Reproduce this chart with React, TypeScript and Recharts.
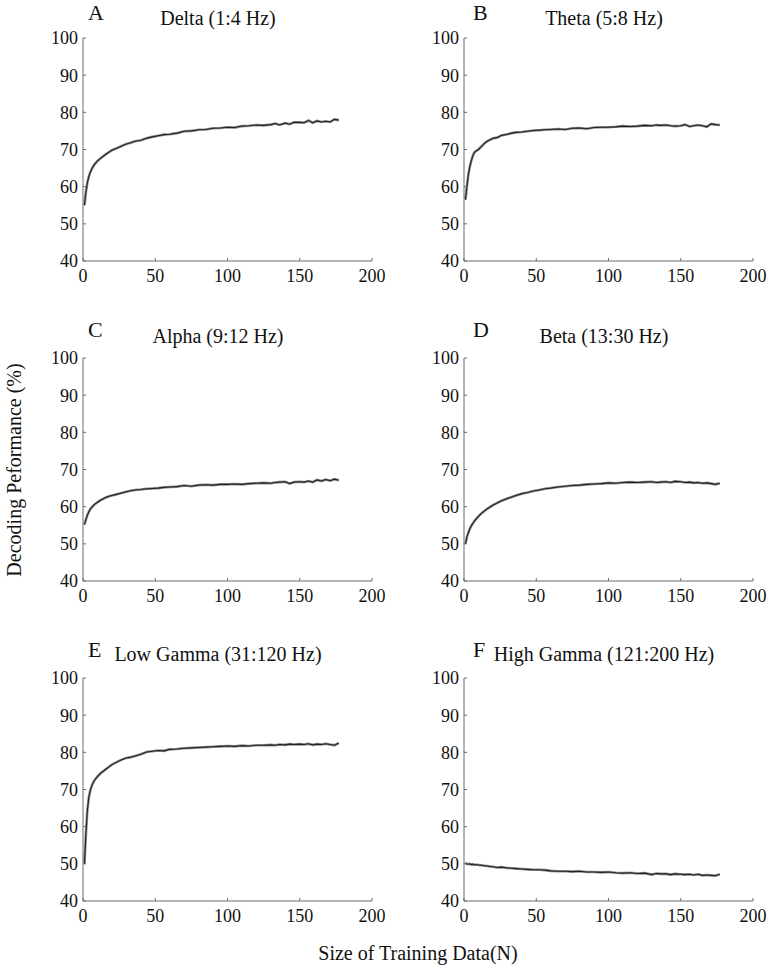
import React from "react";
import { LineChart, Line, XAxis, YAxis } from "recharts";

const trainingSizes = [1,2,3,4,5,6,7,8,10,12,14,16,18,20,23,26,30,33,36,40,44,48,52,56,60,65,70,75,80,85,90,95,100,105,110,115,120,125,130,133,136,140,143,146,150,153,156,159,162,165,168,171,174,177];

const deltaValues = [55.0,58.5,61.0,62.7,63.8,64.7,65.4,66.0,66.9,67.6,68.2,68.8,69.3,69.8,70.3,70.8,71.5,71.8,72.2,72.5,73.0,73.4,73.7,74.0,74.1,74.4,74.9,75.0,75.3,75.4,75.7,75.8,76.0,75.9,76.3,76.4,76.6,76.5,76.7,77.0,76.6,77.1,76.8,77.3,77.3,77.2,77.8,77.2,77.7,77.4,77.6,77.4,78.1,77.9];
const thetaValues = [56.5,60.0,63.2,65.3,66.9,68.2,69.1,69.5,70.0,70.8,71.6,72.2,72.6,73.0,73.2,73.8,74.1,74.4,74.6,74.7,74.9,75.1,75.2,75.3,75.4,75.5,75.4,75.7,75.8,75.6,75.9,76.0,76.0,76.1,76.3,76.2,76.3,76.5,76.4,76.6,76.5,76.6,76.4,76.3,76.4,76.7,76.2,76.4,76.6,76.4,76.1,76.9,76.7,76.6];
const alphaValues = [55.2,56.5,57.7,58.6,59.3,59.8,60.2,60.6,61.2,61.7,62.1,62.5,62.8,63.0,63.3,63.6,64.0,64.3,64.5,64.6,64.8,64.9,65.0,65.2,65.3,65.4,65.7,65.5,65.8,65.9,65.8,66.0,66.0,66.1,66.0,66.2,66.3,66.4,66.3,66.5,66.6,66.7,66.2,66.6,66.7,66.6,66.9,66.6,67.2,66.9,67.3,67.0,67.4,67.1];
const betaValues = [50.0,51.8,53.0,54.0,54.8,55.4,56.0,56.5,57.4,58.2,58.8,59.4,59.9,60.4,61.0,61.6,62.2,62.6,63.0,63.5,63.8,64.2,64.5,64.8,65.0,65.3,65.5,65.7,65.8,66.0,66.1,66.2,66.4,66.3,66.5,66.6,66.5,66.6,66.7,66.5,66.6,66.7,66.5,66.8,66.7,66.5,66.6,66.4,66.5,66.3,66.4,66.2,66.0,66.3];
const lowGammaValues = [50.0,58.0,64.3,67.8,69.7,70.9,71.8,72.5,73.5,74.3,74.9,75.5,76.1,76.7,77.3,77.9,78.5,78.7,79.0,79.5,80.1,80.3,80.5,80.4,80.8,80.9,81.1,81.2,81.3,81.4,81.5,81.6,81.7,81.6,81.8,81.7,81.9,81.9,82.0,81.9,82.1,82.0,82.2,82.1,82.2,82.1,82.3,82.0,82.2,82.1,82.3,82.1,81.9,82.5];
const highGammaValues = [50.2,50.0,49.9,50.0,49.8,49.9,49.7,49.8,49.7,49.6,49.5,49.4,49.3,49.2,49.0,49.1,48.9,48.8,48.7,48.6,48.5,48.4,48.4,48.3,48.1,48.0,48.0,47.9,48.0,47.8,47.8,47.7,47.8,47.6,47.5,47.6,47.4,47.5,47.1,47.4,47.3,47.3,47.1,47.3,47.2,47.1,47.2,47.0,47.2,46.9,47.0,46.9,46.8,47.2];

const xTicks = [0, 50, 100, 150, 200];
const yTicks = [40, 50, 60, 70, 80, 90, 100];

const panelLetters = ["A", "B", "C", "D", "E", "F"];
const panelTitles = [
  "Delta (1:4 Hz)",
  "Theta (5:8 Hz)",
  "Alpha (9:12 Hz)",
  "Beta (13:30 Hz)",
  "Low Gamma (31:120 Hz)",
  "High Gamma (121:200 Hz)",
];
const panelValues = [deltaValues, thetaValues, alphaValues, betaValues, lowGammaValues, highGammaValues];

const xAxisTitle = "Size of Training Data(N)";
const yAxisTitle = "Decoding Peformance (%)";

// layout
const colLeft = [83, 464];
const rowTop = [38, 358, 678];
const plotW = 289;
const plotH = 223;
const yAxisW = 50;
const mTop = 10;
const mRight = 22;
const xAxisH = 34;
const titleCenter = [218, 604];
const letterX = [88, 473];
const titleBase = [25, 343, 661];
const letterBase = [20, 337, 657];

const FONT = "'Liberation Serif', 'Times New Roman', serif";
const AXIS_COLOR = "#6b6b6b";

function Panel({ idx }: { idx: number }) {
  const col = idx % 2;
  const row = Math.floor(idx / 2);
  const data = trainingSizes.map((n, i) => ({ n, v: panelValues[idx][i] }));
  const w = yAxisW + plotW + mRight;
  const h = mTop + plotH + xAxisH;
  return (
    <div style={{ position: "absolute", left: colLeft[col] - yAxisW, top: rowTop[row] - mTop }}>
      <LineChart width={w} height={h} data={data} margin={{ top: mTop, right: mRight, bottom: 0, left: 0 }}>
        <XAxis
          type="number"
          dataKey="n"
          domain={[0, 200]}
          ticks={xTicks}
          interval={0}
          height={xAxisH}
          axisLine={{ stroke: AXIS_COLOR, strokeWidth: 1 }}
          tickLine={{ stroke: AXIS_COLOR, strokeWidth: 1 }}
          tickSize={-3}
          tickMargin={11}
          tick={{ fill: "#111", fontSize: 18, fontFamily: FONT }}
          allowDataOverflow
        />
        <YAxis
          type="number"
          domain={[40, 100]}
          ticks={yTicks}
          interval={0}
          width={yAxisW}
          axisLine={{ stroke: AXIS_COLOR, strokeWidth: 1 }}
          tickLine={{ stroke: AXIS_COLOR, strokeWidth: 1 }}
          tickSize={-3}
          tickMargin={8}
          tick={{ fill: "#111", fontSize: 18, fontFamily: FONT }}
          allowDataOverflow
        />
        <Line type="linear" dataKey="v" stroke="#8f8f8f" strokeWidth={2.6} dot={false} isAnimationActive={false} />
        <Line type="linear" dataKey="v" stroke="#222" strokeWidth={1.1} dot={false} isAnimationActive={false} />
      </LineChart>
    </div>
  );
}

export default function App() {
  return (
    <div style={{ position: "absolute", left: 0, top: 0, width: 771, height: 976, background: "#fff", fontFamily: FONT }}>
      {panelLetters.map((_, i) => (
        <Panel key={i} idx={i} />
      ))}
      <svg width={771} height={976} style={{ position: "absolute", left: 0, top: 0, pointerEvents: "none" }}>
        {panelLetters.map((L, i) => {
          const col = i % 2;
          const row = Math.floor(i / 2);
          return (
            <g key={L}>
              <text x={letterX[col]} y={letterBase[row]} fontFamily={FONT} fontSize={22} fill="#111">
                {L}
              </text>
              <text x={titleCenter[col]} y={titleBase[row]} textAnchor="middle" fontFamily={FONT} fontSize={20} fill="#111">
                {panelTitles[i]}
              </text>
            </g>
          );
        })}
        <text x={418} y={960} textAnchor="middle" fontFamily={FONT} fontSize={20} fill="#111">
          {xAxisTitle}
        </text>
        <text x={21} y={470} textAnchor="middle" fontFamily={FONT} fontSize={20} fill="#111" transform="rotate(-90 21 470)">
          {yAxisTitle}
        </text>
      </svg>
    </div>
  );
}
